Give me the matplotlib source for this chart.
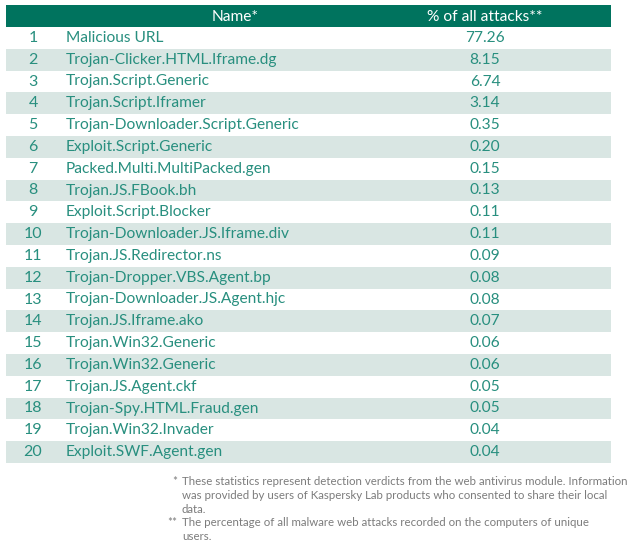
import matplotlib
matplotlib.use("Agg")
import matplotlib.pyplot as plt
from matplotlib.patches import Rectangle

ranks = list(range(1, 21))
names = [
    "Malicious URL", "Trojan-Clicker.HTML.Iframe.dg", "Trojan.Script.Generic",
    "Trojan.Script.Iframer", "Trojan-Downloader.Script.Generic", "Exploit.Script.Generic",
    "Packed.Multi.MultiPacked.gen", "Trojan.JS.FBook.bh", "Exploit.Script.Blocker",
    "Trojan-Downloader.JS.Iframe.div", "Trojan.JS.Redirector.ns", "Trojan-Dropper.VBS.Agent.bp",
    "Trojan-Downloader.JS.Agent.hjc", "Trojan.JS.Iframe.ako", "Trojan.Win32.Generic",
    "Trojan.Win32.Generic", "Trojan.JS.Agent.ckf", "Trojan-Spy.HTML.Fraud.gen",
    "Trojan.Win32.Invader", "Exploit.SWF.Agent.gen",
]
shares = [77.26, 8.15, 6.74, 3.14, 0.35, 0.20, 0.15, 0.13, 0.11, 0.11,
          0.09, 0.08, 0.08, 0.07, 0.06, 0.06, 0.05, 0.05, 0.04, 0.04]
headers = ["Name*", "% of all attacks**"]
notes = [
    ("*", "These statistics represent detection verdicts from the web antivirus module. Information\n"
          "was provided by users of Kaspersky Lab products who consented to share their local\ndata."),
    ("**", "The percentage of all malware web attacks recorded on the computers of unique\nusers."),
]

HEAD = "#00735e"
STRIPE = "#d9e6e3"
TEXT = "#288f7f"
NOTE = "#7c7c7c"
plt.rcParams["font.family"] = ["Lato", "DejaVu Sans"]

fig = plt.figure(figsize=(6.3, 5.51), dpi=100)
ax = fig.add_axes([0, 0, 1, 1])
ax.set_xlim(0, 630)
ax.set_ylim(551, 0)
ax.axis("off")

left, right = 6, 611
top, head_h, row_h = 5, 22, 21.8

ax.add_patch(Rectangle((left, top), right - left, head_h, color=HEAD, lw=0))
ax.text(235, top + head_h / 2 + 1, headers[0], color="white", fontsize=11.2,
        ha="center", va="center")
ax.text(485, top + head_h / 2 + 1, headers[1], color="white", fontsize=11.2,
        ha="center", va="center")

for i, (r, n, s) in enumerate(zip(ranks, names, shares)):
    y0 = top + head_h + i * row_h
    if i % 2 == 1:
        ax.add_patch(Rectangle((left, y0), right - left, row_h, color=STRIPE, lw=0))
    yc = y0 + row_h / 2
    ax.text(33, yc, str(r), color=TEXT, fontsize=11.5, ha="center", va="center")
    ax.text(66, yc, n, color=TEXT, fontsize=11.2, ha="left", va="center")
    ax.text(485, yc, f"{s:.2f}", color=TEXT, fontsize=11.2, ha="center", va="center")

ny = [476, 517]
for (mark, txt), y in zip(notes, ny):
    ax.text(177, y, mark, color=NOTE, fontsize=8.3, ha="right", va="top")
    ax.text(182, y, txt, color=NOTE, fontsize=8.3, ha="left", va="top",
            linespacing=1.32)

fig.savefig("out.png", dpi=100)
